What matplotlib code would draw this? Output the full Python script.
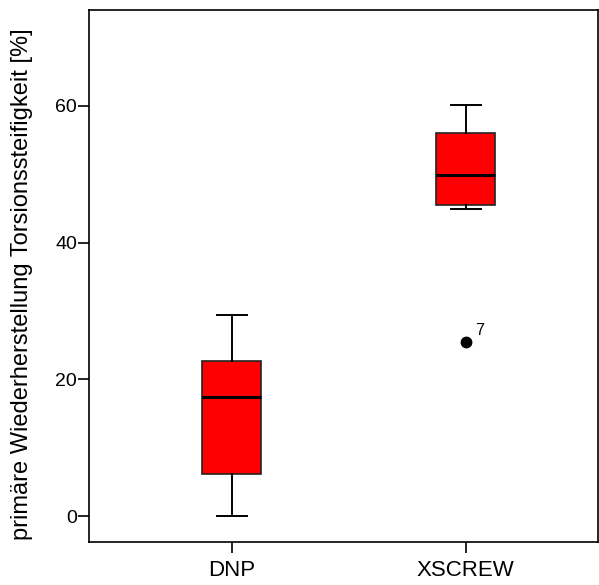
import matplotlib
matplotlib.use('Agg')
import matplotlib.pyplot as plt

plt.rcParams['font.family'] = ['Liberation Sans', 'DejaVu Sans']

# Gruppen und Kennwerte der Boxplots
groups = ['DNP', 'XSCREW']
whisker_low = [0.0, 44.9]
q1 = [6.1, 45.5]
median = [17.4, 49.9]
q3 = [22.7, 56.1]
whisker_high = [29.4, 60.2]
outliers = [[], [25.5]]
outlier_labels = [[], ['7']]

stats = []
for i, g in enumerate(groups):
    stats.append({'label': g, 'whislo': whisker_low[i], 'q1': q1[i], 'med': median[i],
                  'q3': q3[i], 'whishi': whisker_high[i], 'fliers': outliers[i]})

fig = plt.figure(figsize=(5.99, 5.85), dpi=100)
ax = fig.add_axes([0.1494, 0.0735, 0.8486, 0.9095])

pos = [1, 2]
ax.bxp(stats, positions=pos, widths=0.252, capwidths=0.128, patch_artist=True,
       boxprops=dict(facecolor='#ff0000', edgecolor='#222222', linewidth=1.2),
       medianprops=dict(color='black', linewidth=2.2),
       whiskerprops=dict(color='black', linewidth=1.4),
       capprops=dict(color='black', linewidth=1.4),
       flierprops=dict(marker='o', markerfacecolor='black', markeredgecolor='black', markersize=7.5))

for i, labs in enumerate(outlier_labels):
    for v, t in zip(outliers[i], labs):
        ax.annotate(t, (pos[i], v), xytext=(7, 5), textcoords='offset points', fontsize=11.5)

ax.set_xlim(0.391, 2.564)
ax.set_ylim(-3.8, 74.05)
ax.set_yticks([0, 20, 40, 60])
ax.set_xticks(pos)
ax.set_xticklabels(groups, fontsize=16)
ax.tick_params(axis='y', labelsize=14, length=8, width=1.2, pad=1)
ax.tick_params(axis='x', length=8, width=1.2, pad=5)
for s in ax.spines.values():
    s.set_linewidth(1.2)
ax.set_ylabel('primäre Wiederherstellung Torsionssteifigkeit [%]', fontsize=17)
ax.yaxis.set_label_coords(-0.112, 0.485)

fig.savefig('out.png', dpi=100)
